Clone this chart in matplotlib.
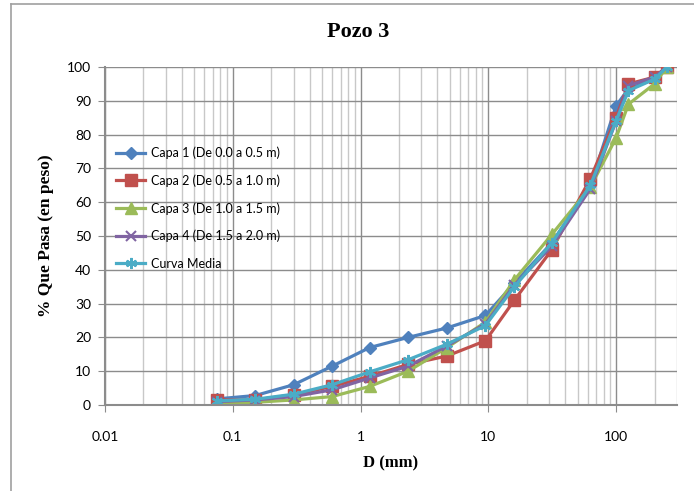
import matplotlib
matplotlib.use("Agg")
import matplotlib.pyplot as plt
from matplotlib.lines import Line2D
from matplotlib.ticker import LogLocator, FixedLocator, NullFormatter, FuncFormatter

# sieve openings (mm) and percent passing for each layer
diam = [0.075, 0.15, 0.3, 0.6, 1.18, 2.36, 4.75, 9.5, 16, 31.5, 63, 100, 125, 200, 250]
capa1 = [1.8, 2.8, 6.0, 11.5, 17.0, 20.0, 22.8, 26.5, 36.0, 48.0, 65.0, 88.5, 93.5, 96.5, 100]
capa2 = [1.5, 1.5, 3.0, 5.5, 8.5, 12.0, 14.5, 19.0, 31.0, 46.0, 67.0, 85.0, 95.0, 97.0, 100]
capa3 = [0.5, 0.8, 1.5, 2.5, 5.5, 10.0, 17.0, 24.5, 37.0, 50.5, 64.5, 79.0, 89.0, 95.0, 100]
capa4 = [1.0, 1.5, 2.5, 4.5, 8.0, 11.5, 17.5, 24.0, 35.5, 47.0, 64.0, 84.0, 94.5, 97.0, 100]
media = [1.2, 1.7, 3.2, 6.0, 9.8, 13.4, 18.0, 23.5, 35.0, 48.0, 65.0, 84.0, 93.0, 96.4, 100]

labels = ["Capa 1 (De 0.0 a 0.5 m)", "Capa 2 (De 0.5 a 1.0 m)",
          "Capa 3 (De 1.0 a 1.5 m)", "Capa 4 (De 1.5 a 2.0 m)", "Curva Media"]

fig = plt.figure(figsize=(6.94, 4.91), dpi=100)
ax = fig.add_axes([105 / 694, 1 - 405 / 491, 572 / 694, 338 / 491])

styles = [
    dict(color="#4F81BD", marker="D", ms=6),
    dict(color="#C0504D", marker="s", ms=8),
    dict(color="#9BBB59", marker="^", ms=8),
    dict(color="#8064A2", marker="x", ms=7, mew=1.5),
    dict(color="#4BACC6", marker=(6, 2, 0), ms=8, mew=1.5),
]
for ys, lab, st in zip([capa1, capa2, capa3, capa4, media], labels, styles):
    ax.plot(diam, ys, lw=2.3, label=lab, **st)

ax.set_xscale("log")
ax.set_xlim(0.01, 300)
ax.set_ylim(0, 100)
ax.xaxis.set_major_locator(FixedLocator([0.01, 0.1, 1, 10, 100]))
ax.xaxis.set_minor_locator(LogLocator(base=10, subs=range(2, 10), numticks=20))
ax.xaxis.set_minor_formatter(NullFormatter())
ax.xaxis.set_major_formatter(FuncFormatter(lambda v, p: f"{v:g}"))
ax.set_yticks(range(0, 101, 10))

ax.grid(which="major", color="#8c8c8c", lw=1.0)
ax.grid(which="minor", axis="x", color="#c8c8c8", lw=1.0)
ax.set_axisbelow(True)
for s in ["top", "right"]:
    ax.spines[s].set_visible(False)
for s in ["left", "bottom"]:
    ax.spines[s].set_color("#8c8c8c")
    ax.spines[s].set_linewidth(1.5)

ax.tick_params(axis="y", which="major", length=5, color="#8c8c8c", pad=5)
ax.tick_params(axis="x", which="major", length=5, color="#8c8c8c", pad=14)
ax.tick_params(axis="x", which="minor", length=0)
for t in ax.get_xticklabels() + ax.get_yticklabels():
    t.set_fontfamily("Lato")
    t.set_fontsize(10)

ax.set_xlabel("D (mm)", family="Liberation Serif", weight="bold", size=12, labelpad=9)
ax.set_ylabel("% Que Pasa (en peso)", family="Liberation Serif", weight="bold", size=12.5, labelpad=9)
fig.text(358 / 694, 1 - 32 / 491, "Pozo 3", ha="center", va="center",
         family="Liberation Serif", weight="bold", size=16)

ax.legend(loc="upper left", bbox_to_anchor=(0.02, 0.765), frameon=False,
          prop=dict(family="Lato", size=9), labelspacing=1.22,
          handlelength=2.3, handletextpad=0.5, borderpad=0, borderaxespad=0)

# chart area border
fig.add_artist(Line2D([11 / 694, 11 / 694], [0, 1 - 4 / 491], color="#a0a0a0", lw=1.2,
                      transform=fig.transFigure))
fig.add_artist(Line2D([11 / 694, 1], [1 - 4 / 491, 1 - 4 / 491], color="#a0a0a0", lw=1.2,
                      transform=fig.transFigure))

fig.savefig("out.png", dpi=100)
